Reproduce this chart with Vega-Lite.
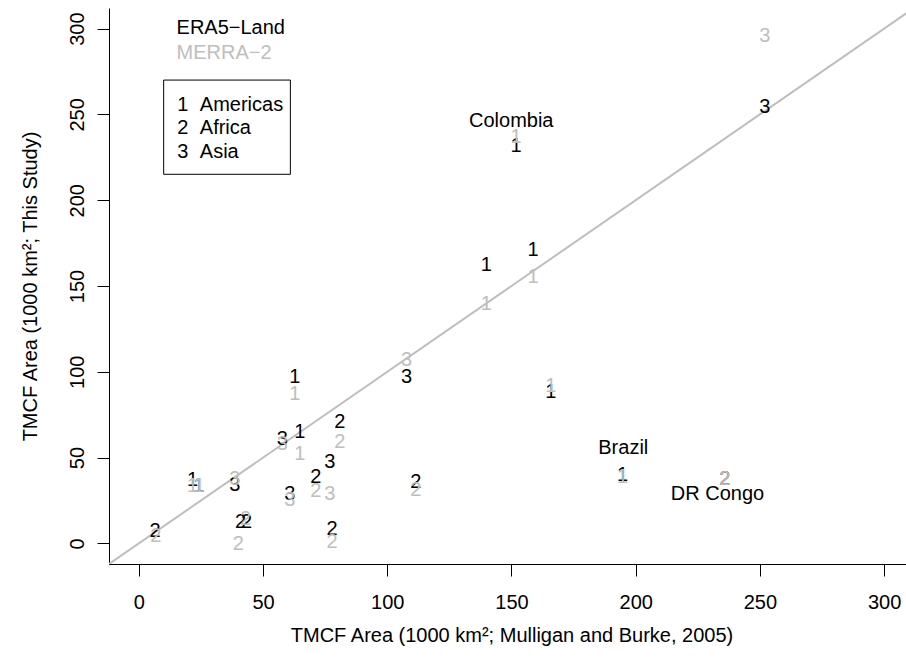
{
  "$schema": "https://vega.github.io/schema/vega-lite/v6.json",
  "width": 797,
  "height": 556,
  "autosize": "none",
  "padding": {"left": 109, "top": 8, "right": 0, "bottom": 95},
  "background": "white",
  "config": {
    "font": "Liberation Sans",
    "view": {"stroke": null},
    "axis": {
      "grid": false,
      "domainColor": "black",
      "domainWidth": 1,
      "tickColor": "black",
      "tickWidth": 1,
      "tickSize": 12,
      "labelColor": "black",
      "titleColor": "black",
      "labelFont": "Liberation Sans",
      "titleFont": "Liberation Sans",
      "labelFontSize": 20,
      "titleFontSize": 20,
      "titleFontWeight": "normal",
      "labelFlush": false,
      "labelOverlap": false
    },
    "text": {"font": "Liberation Sans", "fontSize": 20}
  },
  "datasets": {
    "points": [
      {"region": "1", "product": "ERA5−Land", "mulligan_burke": 21.6, "this_study": 37.3},
      {"region": "1", "product": "ERA5−Land", "mulligan_burke": 24.2, "this_study": 34.0},
      {"region": "1", "product": "ERA5−Land", "mulligan_burke": 62.8, "this_study": 97.5},
      {"region": "1", "product": "ERA5−Land", "mulligan_burke": 64.8, "this_study": 65.5},
      {"region": "1", "product": "ERA5−Land", "mulligan_burke": 139.9, "this_study": 163.0},
      {"region": "1", "product": "ERA5−Land", "mulligan_burke": 151.8, "this_study": 232.0},
      {"region": "1", "product": "ERA5−Land", "mulligan_burke": 158.7, "this_study": 171.8},
      {"region": "1", "product": "ERA5−Land", "mulligan_burke": 165.8, "this_study": 88.6},
      {"region": "1", "product": "ERA5−Land", "mulligan_burke": 194.7, "this_study": 40.2},
      {"region": "2", "product": "ERA5−Land", "mulligan_burke": 6.5, "this_study": 8.0},
      {"region": "2", "product": "ERA5−Land", "mulligan_burke": 41.0, "this_study": 13.0},
      {"region": "2", "product": "ERA5−Land", "mulligan_burke": 43.4, "this_study": 13.0},
      {"region": "2", "product": "ERA5−Land", "mulligan_burke": 71.2, "this_study": 39.2},
      {"region": "2", "product": "ERA5−Land", "mulligan_burke": 77.8, "this_study": 9.1},
      {"region": "2", "product": "ERA5−Land", "mulligan_burke": 80.9, "this_study": 71.3},
      {"region": "2", "product": "ERA5−Land", "mulligan_burke": 111.5, "this_study": 36.1},
      {"region": "2", "product": "ERA5−Land", "mulligan_burke": 235.9, "this_study": 38.3},
      {"region": "3", "product": "ERA5−Land", "mulligan_burke": 38.6, "this_study": 34.4},
      {"region": "3", "product": "ERA5−Land", "mulligan_burke": 57.8, "this_study": 61.6},
      {"region": "3", "product": "ERA5−Land", "mulligan_burke": 60.8, "this_study": 29.6},
      {"region": "3", "product": "ERA5−Land", "mulligan_burke": 76.9, "this_study": 48.0},
      {"region": "3", "product": "ERA5−Land", "mulligan_burke": 107.8, "this_study": 97.5},
      {"region": "3", "product": "ERA5−Land", "mulligan_burke": 252.0, "this_study": 254.9},
      {"region": "1", "product": "MERRA−2", "mulligan_burke": 21.6, "this_study": 34.0},
      {"region": "1", "product": "MERRA−2", "mulligan_burke": 24.2, "this_study": 34.0},
      {"region": "1", "product": "MERRA−2", "mulligan_burke": 62.8, "this_study": 87.8},
      {"region": "1", "product": "MERRA−2", "mulligan_burke": 64.8, "this_study": 52.9},
      {"region": "1", "product": "MERRA−2", "mulligan_burke": 139.9, "this_study": 139.9},
      {"region": "1", "product": "MERRA−2", "mulligan_burke": 151.8, "this_study": 237.4},
      {"region": "1", "product": "MERRA−2", "mulligan_burke": 158.7, "this_study": 155.8},
      {"region": "1", "product": "MERRA−2", "mulligan_burke": 165.8, "this_study": 92.1},
      {"region": "1", "product": "MERRA−2", "mulligan_burke": 194.7, "this_study": 39.0},
      {"region": "2", "product": "MERRA−2", "mulligan_burke": 6.8, "this_study": 5.0},
      {"region": "2", "product": "MERRA−2", "mulligan_burke": 40.0, "this_study": 0.4},
      {"region": "2", "product": "MERRA−2", "mulligan_burke": 43.0, "this_study": 15.0},
      {"region": "2", "product": "MERRA−2", "mulligan_burke": 71.2, "this_study": 30.9},
      {"region": "2", "product": "MERRA−2", "mulligan_burke": 77.8, "this_study": 1.3},
      {"region": "2", "product": "MERRA−2", "mulligan_burke": 80.9, "this_study": 59.6},
      {"region": "2", "product": "MERRA−2", "mulligan_burke": 111.5, "this_study": 31.5},
      {"region": "2", "product": "MERRA−2", "mulligan_burke": 235.9, "this_study": 38.0},
      {"region": "3", "product": "MERRA−2", "mulligan_burke": 38.6, "this_study": 37.9},
      {"region": "3", "product": "MERRA−2", "mulligan_burke": 57.8, "this_study": 58.5},
      {"region": "3", "product": "MERRA−2", "mulligan_burke": 60.8, "this_study": 25.6},
      {"region": "3", "product": "MERRA−2", "mulligan_burke": 76.9, "this_study": 29.6},
      {"region": "3", "product": "MERRA−2", "mulligan_burke": 107.8, "this_study": 107.7},
      {"region": "3", "product": "MERRA−2", "mulligan_burke": 252.0, "this_study": 296.1}
    ],
    "countries": [
      {"label": "Colombia", "mulligan_burke": 149.9, "this_study": 242.9},
      {"label": "Brazil", "mulligan_burke": 195.0, "this_study": 51.9},
      {"label": "DR Congo", "mulligan_burke": 232.9, "this_study": 25.2}
    ],
    "products": [
      {"product": "ERA5−Land", "mulligan_burke": 15.2, "this_study": 297.1},
      {"product": "MERRA−2", "mulligan_burke": 15.2, "this_study": 282.1}
    ],
    "regions": [
      {"code": "1", "name": "Americas", "code_x": 15.5, "name_x": 24.55, "this_study": 252.0},
      {"code": "2", "name": "Africa", "code_x": 15.5, "name_x": 24.55, "this_study": 238.4},
      {"code": "3", "name": "Asia", "code_x": 15.5, "name_x": 24.55, "this_study": 224.8}
    ],
    "region_box": [
      {"left": 10, "right": 61, "bottom": 215.1, "top": 270}
    ]
  },
  "layer": [
    {
      "data": {"values": [
        {"mulligan_burke": -12, "this_study": -12},
        {"mulligan_burke": 312, "this_study": 312}
      ]},
      "mark": {"type": "line", "color": "#bebebe", "strokeWidth": 2, "clip": true},
      "encoding": {
        "x": {
          "field": "mulligan_burke",
          "type": "quantitative",
          "scale": {"domain": [-12, 308.8], "nice": false, "zero": false},
          "axis": {
            "title": "TMCF Area (1000 km²; Mulligan and Burke, 2005)",
            "values": [0, 50, 100, 150, 200, 250, 300],
            "labelBaseline": "alphabetic",
            "labelPadding": 32,
            "titleX": 402.5,
            "titleY": 77.4,
            "titleAlign": "center",
            "titleBaseline": "alphabetic"
          }
        },
        "y": {
          "field": "this_study",
          "type": "quantitative",
          "scale": {"domain": [-12, 312], "nice": false, "zero": false},
          "axis": {
            "title": "TMCF Area (1000 km²; This Study)",
            "values": [0, 50, 100, 150, 200, 250, 300],
            "labelAngle": -90,
            "labelAlign": "center",
            "labelBaseline": "alphabetic",
            "labelPadding": 14,
            "titleAngle": -90,
            "titleX": -73,
            "titleY": 278,
            "titleAlign": "center",
            "titleBaseline": "alphabetic"
          }
        }
      }
    },
    {
      "mark": {"type": "rule", "color": "black", "strokeWidth": 1},
      "encoding": {"y": {"datum": 312}}
    },
    {
      "data": {"name": "region_box"},
      "mark": {"type": "rect", "fill": "white", "stroke": "black", "strokeWidth": 1},
      "encoding": {
        "x": {"field": "left", "type": "quantitative"},
        "x2": {"field": "right"},
        "y": {"field": "bottom", "type": "quantitative"},
        "y2": {"field": "top"}
      }
    },
    {
      "data": {"name": "regions"},
      "mark": {"type": "text", "align": "left", "baseline": "alphabetic", "color": "black"},
      "encoding": {
        "x": {"field": "code_x", "type": "quantitative"},
        "y": {"field": "this_study", "type": "quantitative"},
        "text": {"field": "code"}
      }
    },
    {
      "data": {"name": "regions"},
      "mark": {"type": "text", "align": "left", "baseline": "alphabetic", "color": "black"},
      "encoding": {
        "x": {"field": "name_x", "type": "quantitative"},
        "y": {"field": "this_study", "type": "quantitative"},
        "text": {"field": "name"}
      }
    },
    {
      "data": {"name": "products"},
      "mark": {"type": "text", "align": "left", "baseline": "alphabetic"},
      "encoding": {
        "x": {"field": "mulligan_burke", "type": "quantitative"},
        "y": {"field": "this_study", "type": "quantitative"},
        "text": {"field": "product"},
        "color": {
          "field": "product",
          "type": "nominal",
          "scale": {"domain": ["ERA5−Land", "MERRA−2"], "range": ["#000000", "#bebebe"]},
          "legend": null
        }
      }
    },
    {
      "data": {"name": "points"},
      "mark": {"type": "text", "align": "center", "baseline": "middle", "dy": 1},
      "encoding": {
        "x": {"field": "mulligan_burke", "type": "quantitative"},
        "y": {"field": "this_study", "type": "quantitative"},
        "text": {"field": "region"},
        "color": {"field": "product", "type": "nominal", "legend": null}
      }
    },
    {
      "data": {"name": "countries"},
      "mark": {"type": "text", "align": "center", "baseline": "alphabetic", "color": "black"},
      "encoding": {
        "x": {"field": "mulligan_burke", "type": "quantitative"},
        "y": {"field": "this_study", "type": "quantitative"},
        "text": {"field": "label"}
      }
    }
  ]
}
